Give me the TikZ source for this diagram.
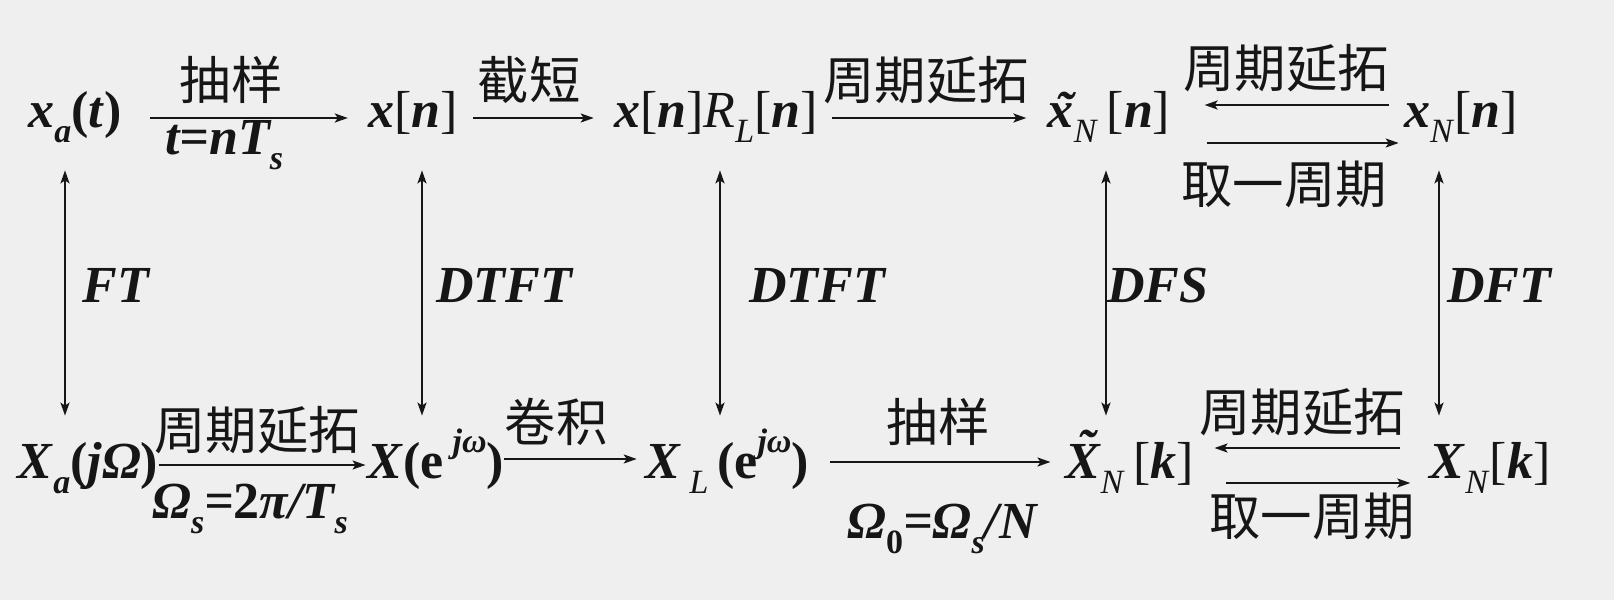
\documentclass[tikz,border=0pt]{standalone}
\usepackage{fontspec}
\setmainfont{Liberation Serif}
\newfontfamily\cjk{Noto Sans CJK SC}
\usetikzlibrary{arrows.meta}
\definecolor{paper}{RGB}{239,239,239}
\definecolor{ink}{RGB}{22,22,22}
% bold italic letters, lowered and raised small text, tilde over a letter
\newcommand\bi[1]{\textbf{\textit{#1}}}
\newcommand\lo[1]{\raisebox{-0.3em}{\fontsize{17}{17}\selectfont #1}}
\newcommand\hi[1]{\raisebox{0.5em}{\fontsize{17}{17}\selectfont #1}}
\newcommand\tld[2][0pt]{\setbox0\hbox{#2}\rlap{\hbox to\wd0{\hss\kern0.12em\raisebox{#1}{\char"02DC}\hss}}\box0}
\tikzset{
  sig/.style={anchor=base, inner sep=0pt, text height=9pt, text depth=0pt,
    font=\fontsize{26}{30}\selectfont},
  op/.style={anchor=base, inner sep=0pt, font=\fontsize{26}{30}\selectfont\bfseries\itshape},
  zh/.style={inner sep=0pt, font=\cjk\fontsize{25.7}{30}\selectfont},
  arr/.style={->, line width=1pt},
  dual/.style={<->, line width=1pt, shorten <=21.5pt, shorten >=22pt},
}
\begin{document}
\begin{tikzpicture}[x=0.5pt,y=-0.5pt,>={Stealth[length=6.5pt,width=4.5pt,inset=1.5pt]},ink]
  \fill[paper] (0,0) rectangle (1614,600);
  \useasboundingbox (0,0) rectangle (1614,600);

  % time domain row
  \node[sig] (xa) at (75,127) {\bi{x}\lo{\bi{a}}\textbf{(}\bi{t}\textbf{)}};
  \node[sig] (xn) at (413,127) {\bi{x}[\bi{n}]};
  \node[sig] (xr) at (716,127) {\bi{x}[\bi{n}]\textit{R}\lo{\textit{L}}[\bi{n}]};
  \node[sig] (xt) at (1109,127) {\bi{\tld{x}}\lo{\textit{N}}\,[\bi{n}]};
  \node[sig] (xN) at (1461,127) {\bi{x}\lo{\textit{N}}[\bi{n}]};

  % frequency domain row
  \node[sig] (Xa) at (88,478) {\bi{X}\lo{\bi{a}}\textbf{(}\bi{jΩ}\textbf{)}};
  \node[sig] (Xw) at (436,478) {\bi{X}\textbf{(e}\,\hi{\bi{jω}}\textbf{)}};
  \node[sig] (XL) at (727,478) {\bi{X}\,\lo{\textit{L}}\,\textbf{(e}\hi{\bi{jω}}\textbf{)}};
  \node[sig] (Xt) at (1130,478) {\bi{\tld[0.24em]{X}}\lo{\textit{N}}\,[\bi{k}]};
  \node[sig] (XN) at (1490,478) {\bi{X}\lo{\textit{N}}[\bi{k}]};

  % horizontal arrows, top
  \draw[arr] ([xshift=14pt]xa.east) -- ([xshift=-10pt]xn.west);
  \draw[arr] ([xshift=7.5pt]xn.east) -- ([xshift=-10pt]xr.west);
  \draw[arr] ([xshift=7pt]xr.east) -- ([xshift=-10.5pt]xt.west);
  \draw[arr] ([xshift=-7.5pt,yshift=6.5pt]xN.west) -- ([xshift=17pt,yshift=6.5pt]xt.east);
  \draw[arr] ([xshift=18pt,yshift=-12.5pt]xt.east) -- ([xshift=-2.5pt,yshift=-12.5pt]xN.west);

  % horizontal arrows, bottom
  \draw[arr] ([yshift=2pt]Xa.east) -- ([xshift=-1pt,yshift=2pt]Xw.west);
  \draw[arr] ([yshift=5pt]Xw.east) -- ([xshift=-4pt,yshift=5pt]XL.west);
  \draw[arr] ([xshift=10.5pt,yshift=3.5pt]XL.east) -- ([xshift=-7.5pt,yshift=3.5pt]Xt.west);
  \draw[arr] ([xshift=-14.5pt,yshift=10.5pt]XN.west) -- ([xshift=10pt,yshift=10.5pt]Xt.east);
  \draw[arr] ([xshift=15.5pt,yshift=-7pt]Xt.east) -- ([xshift=-9.5pt,yshift=-7pt]XN.west);

  % transform pairs
  \draw[dual] ([xshift=-5pt]xa.south) -- ([xshift=-5pt]xa.south |- Xa.north);
  \draw[dual] ([xshift=4.5pt]xn.south) -- ([xshift=4.5pt]xn.south |- Xw.north);
  \draw[dual] ([xshift=2pt]xr.south) -- ([xshift=2pt]xr.south |- XL.north);
  \draw[dual] ([xshift=-1.5pt]xt.south) -- ([xshift=-1.5pt]xt.south |- Xt.north);
  \draw[dual] ([xshift=-11pt]xN.south) -- ([xshift=-11pt]xN.south |- XN.north);

  \node[op] (ft) at (116,302) {FT};
  \node[op] (dtft1) at (504,302) {DTFT};
  \node[op] (dtft2) at (817,302) {DTFT};
  \node[op] (dfs) at (1158,302) {DFS};
  \node[op] (dft) at (1499,302) {DFT};

  % arrow labels
  \node[zh] (samp1) at (231,80) {抽样};
  \node[op] (tnt) at (224,154) {t=nT\lo{s}};
  \node[zh] (trunc) at (529,80) {截短};
  \node[zh] (ext1) at (926,80) {周期延拓};
  \node[zh] (ext2) at (1286,68) {周期延拓};
  \node[zh] (one1) at (1284,184) {取一周期};
  \node[zh] (ext3) at (257,430) {周期延拓};
  \node[op] (oms) at (250,518) {Ω\lo{s}=\textup{2}π/T\lo{s}};
  \node[zh] (conv) at (556,422) {卷积};
  \node[zh] (samp2) at (938,422) {抽样};
  \node[op] (omz) at (942,538) {Ω\lo{\textup{0}}=Ω\lo{s}/N};
  \node[zh] (ext4) at (1302,412) {周期延拓};
  \node[zh] (one2) at (1312,516) {取一周期};
\end{tikzpicture}
\end{document}
